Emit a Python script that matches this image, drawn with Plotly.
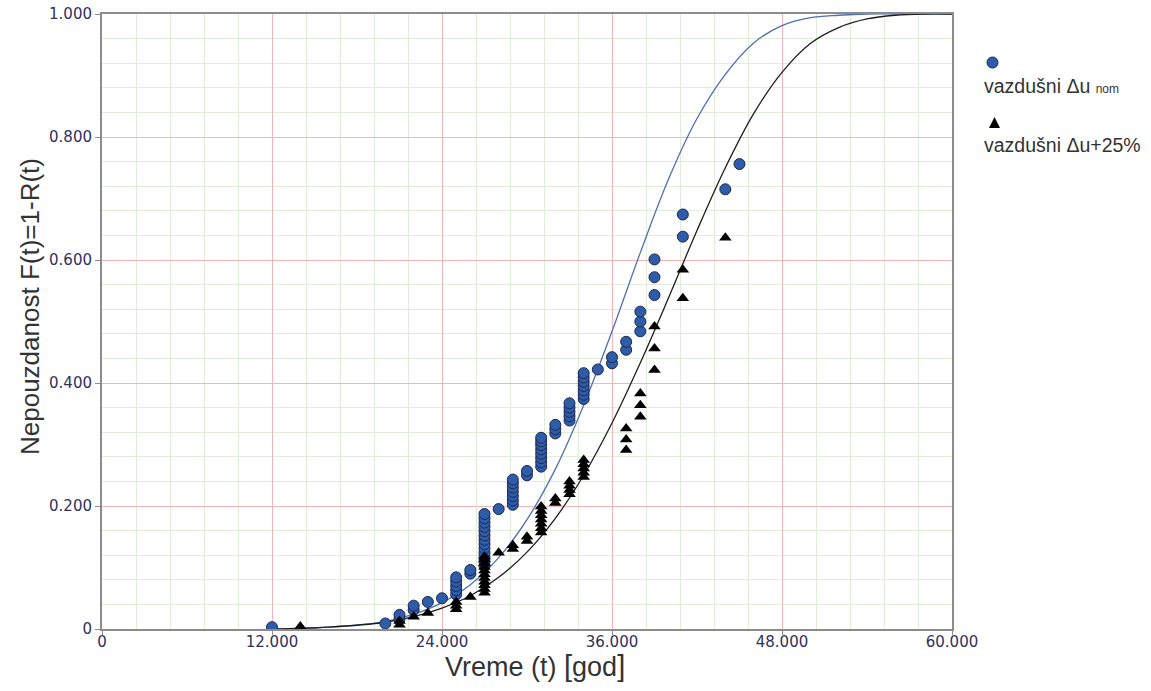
import plotly.graph_objects as go

# ---------------- data ----------------
# fitted curves
curve_t = [12000, 16000, 20000, 22000, 24000, 26000, 28000, 30000, 32000, 34000,
           36000, 38000, 40000, 42000, 44000, 46000, 48000, 50000, 52000, 54000,
           56000, 58000, 60000]
curve_nom = [0.000, 0.003, 0.012, 0.024, 0.043, 0.072, 0.116, 0.178, 0.260, 0.364,
             0.484, 0.612, 0.732, 0.830, 0.902, 0.953, 0.981, 0.994, 0.998, 1.000,
             1.000, 1.000, 1.000]
curve_25 = [0.000, 0.003, 0.011, 0.020, 0.034, 0.054, 0.084, 0.125, 0.180, 0.250,
            0.335, 0.433, 0.539, 0.648, 0.750, 0.838, 0.905, 0.952, 0.978, 0.992,
            0.998, 1.000, 1.000]

# data points: vazdušni Δu nom
nom_t = [12000, 20000, 21000, 21000, 22000, 22000, 23000, 24000,
         25000, 25000, 25000, 25000, 25000, 26000, 26000,
         27000, 27000, 27000, 27000, 27000, 27000, 27000, 27000, 27000, 27000, 27000, 27000, 27000,
         28000,
         29000, 29000, 29000, 29000, 29000, 29000, 29000,
         30000, 30000,
         31000, 31000, 31000, 31000, 31000, 31000, 31000, 31000,
         32000, 32000, 32000,
         33000, 33000, 33000, 33000, 33000,
         34000, 34000, 34000, 34000, 34000, 34000, 34000,
         35000, 36000, 36000, 37000, 37000, 38000, 38000, 38000,
         39000, 39000, 39000, 41000, 41000, 44000, 45000]
nom_F = [0.003, 0.009, 0.016, 0.023, 0.031, 0.038, 0.044, 0.050,
         0.056, 0.063, 0.070, 0.077, 0.084, 0.090, 0.096,
         0.103, 0.110, 0.117, 0.124, 0.131, 0.138, 0.145, 0.152, 0.159, 0.166, 0.173, 0.180, 0.187,
         0.195,
         0.202, 0.209, 0.216, 0.223, 0.230, 0.237, 0.243,
         0.250, 0.257,
         0.264, 0.271, 0.278, 0.285, 0.292, 0.299, 0.305, 0.311,
         0.318, 0.325, 0.332,
         0.339, 0.346, 0.353, 0.360, 0.367,
         0.374, 0.381, 0.388, 0.395, 0.402, 0.409, 0.416,
         0.422, 0.432, 0.442, 0.454, 0.467, 0.484, 0.500, 0.516,
         0.543, 0.572, 0.601, 0.638, 0.674, 0.715, 0.756]

# data points: vazdušni Δu+25%
p25_t = [14000, 21000, 21000, 22000, 23000,
         25000, 25000, 25000, 26000,
         27000, 27000, 27000, 27000, 27000, 27000, 27000, 27000, 27000, 27000, 27000,
         28000, 29000, 29000, 30000, 30000,
         31000, 31000, 31000, 31000, 31000, 31000, 31000,
         32000, 32000,
         33000, 33000, 33000, 33000,
         34000, 34000, 34000, 34000, 34000,
         37000, 37000, 37000, 38000, 38000, 38000,
         39000, 39000, 39000, 41000, 41000, 44000]
p25_F = [0.004, 0.007, 0.013, 0.020, 0.026,
         0.032, 0.038, 0.044, 0.052,
         0.059, 0.065, 0.071, 0.077, 0.083, 0.089, 0.095, 0.101, 0.107, 0.113, 0.118,
         0.124, 0.130, 0.136, 0.143, 0.150,
         0.157, 0.164, 0.171, 0.178, 0.185, 0.192, 0.199,
         0.205, 0.212,
         0.219, 0.226, 0.233, 0.240,
         0.247, 0.254, 0.261, 0.268, 0.275,
         0.291, 0.308, 0.326, 0.345, 0.364, 0.383,
         0.421, 0.456, 0.492, 0.538, 0.584, 0.636]

x_tickvals = [0, 12000, 24000, 36000, 48000, 60000]
x_ticktext = ["0", "12.000", "24.000", "36.000", "48.000", "60.000"]
y_tickvals = [0, 0.2, 0.4, 0.6, 0.8, 1.0]
y_ticktext = ["0", "0.200", "0.400", "0.600", "0.800", "1.000"]

label_nom = "vazdušni Δu <span style='font-size:12px'>nom</span>"
label_25 = "vazdušni Δu+25%"
x_title = "Vreme (t) <span style='font-size:29px'>[</span>god<span style='font-size:29px'>]</span>"
y_title = "Nepouzdanost F(t)=1-R(t)"

# ---------------- figure ----------------
W, H = 1151, 691
L, R, T, B = 102, 199, 14, 62
PW, PH = W - L - R, H - T - B


def px(x):
    """page pixel x -> paper coordinate"""
    return (x - L) / PW


def py(y):
    """page pixel y -> paper coordinate"""
    return (H - B - y) / PH


fig = go.Figure()
fig.add_trace(go.Scatter(x=curve_t, y=curve_nom, mode="lines", line_shape="spline",
                         line=dict(color="#4f6fb3", width=1.3), showlegend=False,
                         hoverinfo="skip"))
fig.add_trace(go.Scatter(x=curve_t, y=curve_25, mode="lines", line_shape="spline",
                         line=dict(color="#1e1e1e", width=1.3), showlegend=False,
                         hoverinfo="skip"))
fig.add_trace(go.Scatter(x=nom_t, y=nom_F, mode="markers", name="nom",
                         marker=dict(symbol="circle", size=11, color="#2f5ca8",
                                     line=dict(color="#1b2850", width=1)),
                         showlegend=False))
fig.add_trace(go.Scatter(x=p25_t, y=p25_F, mode="markers", name="+25%",
                         marker=dict(symbol="triangle-up", size=11, color="#000000",
                                     line=dict(color="#000000", width=0)),
                         showlegend=False))

tick_font = dict(family="DejaVu Sans", size=15, color="#2e3160")
grid_major = "#f2b6ba"
grid_minor = "#e0eed9"

fig.update_xaxes(range=[0, 60000], tickvals=x_tickvals, ticktext=x_ticktext,
                 tickfont=tick_font, showgrid=True, gridcolor=grid_major, gridwidth=1,
                 minor=dict(tick0=0, dtick=2400, showgrid=True, gridcolor=grid_minor,
                            gridwidth=1),
                 showline=True, linecolor="#8c8c8c", linewidth=2, mirror=True,
                 ticks="outside", ticklen=4, tickcolor="#8c8c8c", zeroline=False,
                 ticklabelstandoff=-6, ticklabeloverflow="allow", automargin=False)
fig.update_yaxes(range=[0, 1.0], tickvals=y_tickvals, ticktext=y_ticktext,
                 tickfont=tick_font, showgrid=True, gridcolor=grid_major, gridwidth=1,
                 minor=dict(tick0=0, dtick=0.04, showgrid=True, gridcolor=grid_minor,
                            gridwidth=1),
                 showline=True, linecolor="#8c8c8c", linewidth=2, mirror=True,
                 ticks="outside", ticklen=5, tickcolor="#8c8c8c", zeroline=False,
                 ticklabeloverflow="allow", automargin=False)

# axis titles
fig.add_annotation(xref="paper", yref="paper", x=px(535), y=py(666),
                   xanchor="center", yanchor="middle", showarrow=False, text=x_title,
                   font=dict(family="Liberation Sans", size=27, color="#333333"))
fig.add_annotation(xref="paper", yref="paper", x=px(30), y=py(307),
                   xanchor="center", yanchor="middle", showarrow=False, text=y_title,
                   textangle=-90,
                   font=dict(family="Liberation Sans", size=26, color="#333333"))

# custom legend (symbol above label)
fig.add_shape(type="circle", xref="paper", yref="paper",
              x0=px(987), x1=px(998), y0=py(68), y1=py(57),
              fillcolor="#2f5ca8", line=dict(color="#1b2850", width=1))
fig.add_shape(type="path", xref="paper", yref="paper",
              path=f"M {px(989)} {py(128)} L {px(1000)} {py(128)} L {px(994.5)} {py(117)} Z",
              fillcolor="#000000", line=dict(color="#000000", width=0))
fig.add_annotation(xref="paper", yref="paper", x=px(982), y=py(86),
                   xanchor="left", yanchor="middle", showarrow=False, text=label_nom,
                   font=dict(family="Liberation Sans", size=19.5, color="#333333"))
fig.add_annotation(xref="paper", yref="paper", x=px(982), y=py(145),
                   xanchor="left", yanchor="middle", showarrow=False, text=label_25,
                   font=dict(family="Liberation Sans", size=19.5, color="#333333"))

fig.update_layout(width=W, height=H, margin=dict(l=L, r=R, t=T, b=B),
                  plot_bgcolor="white", paper_bgcolor="white", showlegend=False)

fig.write_html("out.html",
               config={"displayModeBar": False},
               post_script="document.body.style.margin='0px';"
                           "document.body.style.overflow='hidden';")
